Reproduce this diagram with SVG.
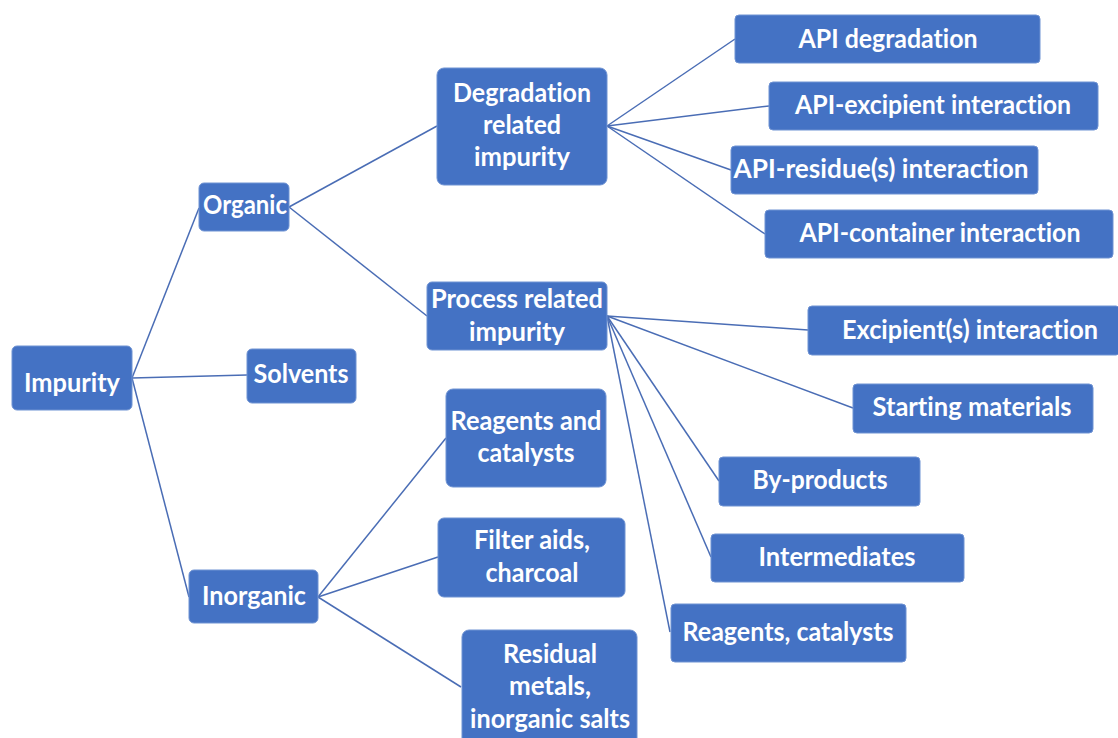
<svg xmlns="http://www.w3.org/2000/svg" width="1118" height="738" viewBox="0 0 1118 738">
  <style>
    .box { fill: #4472C4; stroke: #6f93d3; stroke-width: 1; }
    .lbl { font-family: Lato, "Open Sans", "Liberation Sans", sans-serif; font-weight: bold; font-size: 26px; fill: #ffffff; text-anchor: middle; font-variant-ligatures: none; font-feature-settings: "liga" 0; }
    .edge { stroke: #4a6db5; stroke-width: 1.5; fill: none; }
  </style>
  <rect width="1118" height="738" fill="#ffffff"/>

  <!-- connectors -->
  <g id="connectors">
    <line class="edge" x1="132" y1="378" x2="199" y2="208"/>
    <line class="edge" x1="132" y1="378" x2="247" y2="375"/>
    <line class="edge" x1="132" y1="378" x2="189" y2="597"/>
    <line class="edge" x1="289" y1="207" x2="437" y2="126"/>
    <line class="edge" x1="289" y1="207" x2="427" y2="316"/>
    <line class="edge" x1="607" y1="126" x2="735" y2="39"/>
    <line class="edge" x1="607" y1="126" x2="769" y2="106"/>
    <line class="edge" x1="607" y1="126" x2="731" y2="170"/>
    <line class="edge" x1="607" y1="126" x2="765" y2="234"/>
    <line class="edge" x1="607" y1="316" x2="808" y2="330"/>
    <line class="edge" x1="607" y1="316" x2="853" y2="408"/>
    <line class="edge" x1="607" y1="316" x2="719" y2="481"/>
    <line class="edge" x1="607" y1="316" x2="711" y2="557"/>
    <line class="edge" x1="607" y1="316" x2="670" y2="632"/>
    <line class="edge" x1="318" y1="597" x2="446" y2="438"/>
    <line class="edge" x1="318" y1="597" x2="438" y2="557"/>
    <line class="edge" x1="318" y1="597" x2="461" y2="687"/>
  </g>

  <!-- root -->
  <g id="impurity">
    <rect class="box" x="12" y="346" width="120" height="64" rx="5"/>
    <text class="lbl" x="72" y="392" textLength="96" lengthAdjust="spacingAndGlyphs">Impurity</text>
  </g>

  <!-- first level -->
  <g id="organic">
    <rect class="box" x="199" y="183" width="90" height="48" rx="5"/>
    <text class="lbl" x="245" y="214" textLength="84" lengthAdjust="spacingAndGlyphs">Organic</text>
  </g>
  <g id="solvents">
    <rect class="box" x="247" y="349" width="109" height="54" rx="5"/>
    <text class="lbl" x="301" y="383" textLength="95" lengthAdjust="spacingAndGlyphs">Solvents</text>
  </g>
  <g id="inorganic">
    <rect class="box" x="189" y="570" width="129" height="53" rx="5"/>
    <text class="lbl" x="254" y="605" textLength="104" lengthAdjust="spacingAndGlyphs">Inorganic</text>
  </g>

  <!-- organic branch -->
  <g id="degradation">
    <rect class="box" x="437" y="68" width="170" height="117" rx="7"/>
    <text class="lbl" x="522" y="102" textLength="138" lengthAdjust="spacingAndGlyphs">Degradation</text>
    <text class="lbl" x="522" y="134" textLength="78" lengthAdjust="spacingAndGlyphs">related</text>
    <text class="lbl" x="522" y="166" textLength="96" lengthAdjust="spacingAndGlyphs">impurity</text>
  </g>
  <g id="process">
    <rect class="box" x="427" y="282" width="180" height="68" rx="5"/>
    <text class="lbl" x="517" y="308" textLength="172" lengthAdjust="spacingAndGlyphs">Process related</text>
    <text class="lbl" x="517" y="341" textLength="96" lengthAdjust="spacingAndGlyphs">impurity</text>
  </g>

  <!-- inorganic branch -->
  <g id="reagents-catalysts-inorg">
    <rect class="box" x="446" y="389" width="160" height="98" rx="7"/>
    <text class="lbl" x="526" y="430" textLength="151" lengthAdjust="spacingAndGlyphs">Reagents and</text>
    <text class="lbl" x="526" y="462" textLength="97" lengthAdjust="spacingAndGlyphs">catalysts</text>
  </g>
  <g id="filter-aids">
    <rect class="box" x="438" y="518" width="187" height="79" rx="6"/>
    <text class="lbl" x="532" y="549" textLength="116" lengthAdjust="spacingAndGlyphs">Filter aids,</text>
    <text class="lbl" x="532" y="582" textLength="93" lengthAdjust="spacingAndGlyphs">charcoal</text>
  </g>
  <g id="residual-metals">
    <rect class="box" x="462" y="630" width="175" height="118" rx="7"/>
    <text class="lbl" x="550" y="663" textLength="94" lengthAdjust="spacingAndGlyphs">Residual</text>
    <text class="lbl" x="550" y="695" textLength="82" lengthAdjust="spacingAndGlyphs">metals,</text>
    <text class="lbl" x="550" y="728" textLength="160" lengthAdjust="spacingAndGlyphs">inorganic salts</text>
  </g>

  <!-- degradation leaves -->
  <g id="api-degradation">
    <rect class="box" x="735" y="15" width="305" height="48" rx="4"/>
    <text class="lbl" x="888" y="48" textLength="179" lengthAdjust="spacingAndGlyphs">API degradation</text>
  </g>
  <g id="api-excipient">
    <rect class="box" x="769" y="82" width="329" height="48" rx="4"/>
    <text class="lbl" x="933" y="114" textLength="276" lengthAdjust="spacingAndGlyphs">API-excipient interaction</text>
  </g>
  <g id="api-residue">
    <rect class="box" x="731" y="146" width="307" height="48" rx="4"/>
    <text class="lbl" x="881" y="178" textLength="295" lengthAdjust="spacingAndGlyphs">API-residue(s) interaction</text>
  </g>
  <g id="api-container">
    <rect class="box" x="765" y="210" width="348" height="48" rx="4"/>
    <text class="lbl" x="940" y="242" textLength="281" lengthAdjust="spacingAndGlyphs">API-container interaction</text>
  </g>

  <!-- process leaves -->
  <g id="excipient-interaction">
    <rect class="box" x="808" y="306" width="312" height="49" rx="4"/>
    <text class="lbl" x="970" y="339" textLength="256" lengthAdjust="spacingAndGlyphs">Excipient(s) interaction</text>
  </g>
  <g id="starting-materials">
    <rect class="box" x="853" y="384" width="240" height="49" rx="4"/>
    <text class="lbl" x="972" y="416" textLength="199" lengthAdjust="spacingAndGlyphs">Starting materials</text>
  </g>
  <g id="by-products">
    <rect class="box" x="719" y="457" width="201" height="49" rx="4"/>
    <text class="lbl" x="820" y="489" textLength="135" lengthAdjust="spacingAndGlyphs">By-products</text>
  </g>
  <g id="intermediates">
    <rect class="box" x="711" y="534" width="253" height="48" rx="4"/>
    <text class="lbl" x="837" y="566" textLength="157" lengthAdjust="spacingAndGlyphs">Intermediates</text>
  </g>
  <g id="reagents-catalysts-proc">
    <rect class="box" x="671" y="604" width="235" height="58" rx="4"/>
    <text class="lbl" x="788" y="641" textLength="211" lengthAdjust="spacingAndGlyphs">Reagents, catalysts</text>
  </g>
</svg>
